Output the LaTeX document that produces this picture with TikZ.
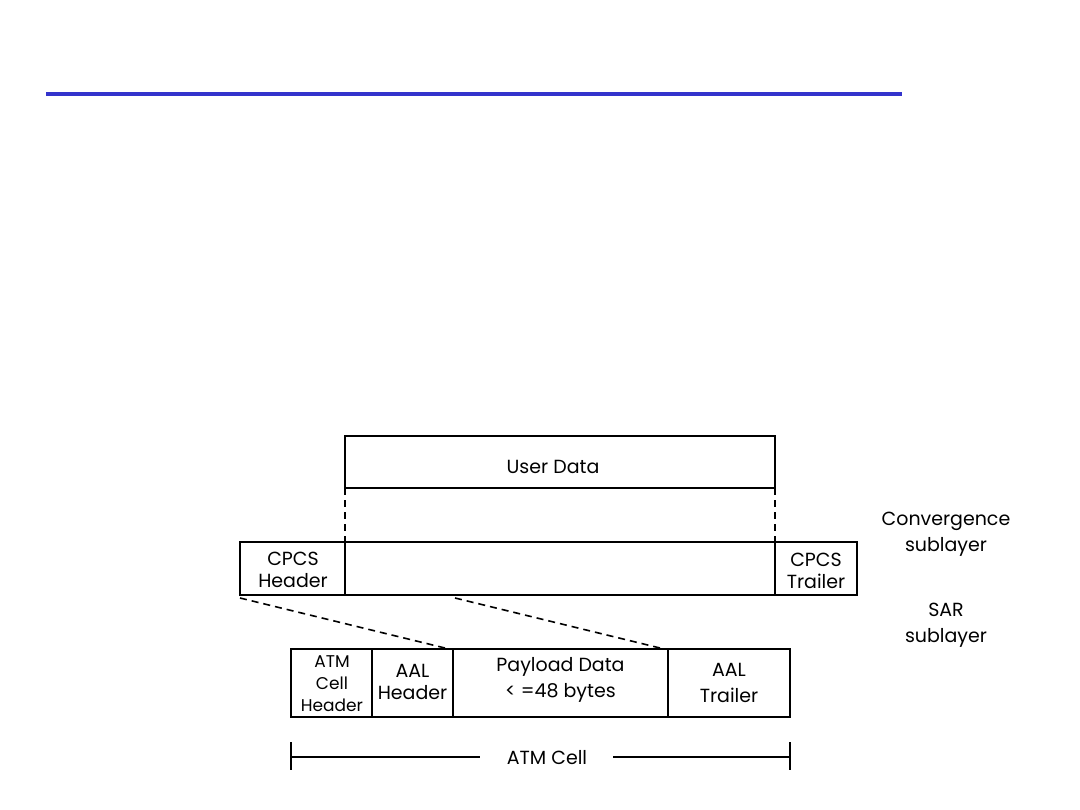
\documentclass[tikz,border=0pt]{standalone}
\usepackage{fontspec}
\setmainfont{Poppins}
\begin{document}
\begin{tikzpicture}[x=1pt,y=-1pt,
  lw/.style={line width=1.8pt},
  lbl/.style={font=\fontsize{19}{22}\selectfont,align=center,inner sep=0pt},
  lblw/.style={font=\fontsize{19}{26}\selectfont,align=center,inner sep=0pt},
  sml/.style={font=\fontsize{17}{22}\selectfont,align=center,inner sep=0pt},
  dline/.style={line width=1.6pt,dash pattern=on 7pt off 5pt}]
\useasboundingbox (0,0) rectangle (1080,810);
\fill[white] (0,0) rectangle (1080,810);
% blue rule
\coordinate (bl) at (46,94.5);
\coordinate (br) at (902,94.5);
\draw[line width=4pt,color={rgb,255:red,51;green,51;blue,204}] (bl) -- (br);
% user data
\draw[lw] (345,436) rectangle (775,488);
\node[lbl] (ud) at (553,467) {User Data};
\coordinate (udbl) at (345,488);
\coordinate (udbr) at (775,488);
% CPCS row
\draw[lw] (240,542) rectangle (857,595);
\draw[lw] (345,542) -- (345,595);
\draw[lw] (775,542) -- (775,595);
\coordinate (mtl) at (345,542);
\coordinate (mtr) at (775,542);
\node[lbl] (ch) at (293,570) {CPCS\\Header};
\node[lbl] (ct) at (816,571) {CPCS\\Trailer};
\draw[dline] (udbl) -- (mtl);
\draw[dline] (udbr) -- (mtr);
% slanted dashed
\coordinate (s1a) at (240,598);
\coordinate (s1b) at (445,648);
\coordinate (s2a) at (455,598);
\coordinate (s2b) at (660,648);
\draw[dline] (s1a) -- (s1b);
\draw[dline] (s2a) -- (s2b);
% ATM cell row
\draw[lw] (291,649) rectangle (790,717);
\foreach \x in {372,453,668} \draw[lw] (\x,649) -- (\x,717);
\node[sml] (ach) at (332,684) {ATM\\Cell\\Header};
\node[lbl] (ah) at (412.5,682) {AAL\\Header};
\node[lblw] (pd) at (560.5,680) {Payload Data\\< =48 bytes};
\node[lblw] (at) at (729,683) {AAL\\Trailer};
% ATM Cell measure
\node[lbl] (ac) at (547,758) {ATM Cell};
\coordinate (ml) at (291,757);
\coordinate (mr) at (790,757);
\coordinate (mli) at (480,757);
\coordinate (mri) at (613,757);
\draw[lw] (291,742) -- (291,770);
\draw[lw] (790,742) -- (790,770);
\draw[lw] (ml) -- (mli);
\draw[lw] (mri) -- (mr);
% side labels
\node[lblw] (cs) at (946,534) {Convergence\\sublayer};
\node[lblw] (ss) at (946,625) {SAR\\sublayer};
\end{tikzpicture}
\end{document}
